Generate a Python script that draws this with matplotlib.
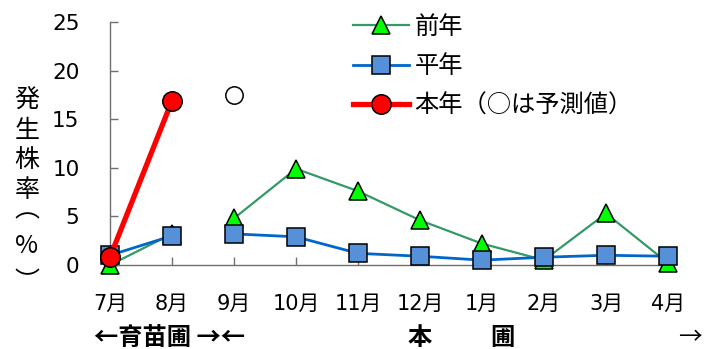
import numpy as np
import matplotlib.pyplot as plt

plt.rcParams['font.family'] = ['DejaVu Sans', 'Noto Sans CJK JP']

# monthly data (%)
months = ['7月', '8月', '9月', '10月', '11月', '12月', '1月', '2月', '3月', '4月']
prev_year = [0.0, 3.2, 4.8, 9.9, 7.6, 4.6, 2.2, 0.5, 5.3, 0.2]
normal_year = [1.0, 3.0, 3.2, 2.9, 1.2, 0.9, 0.5, 0.8, 1.0, 0.9]
this_year = [0.8, 16.9]
forecast_month = 2
forecast_value = 17.5
# nursery -> field break between 8月 and 9月
split = 2

x = np.arange(len(months))
cjk = ['Noto Sans CJK JP', 'DejaVu Sans']

fig = plt.figure(figsize=(7.18, 3.49), dpi=100)
ax = fig.add_axes([0.1532, 0.2407, 0.9304 - 0.1532, 0.937 - 0.2407])

green = '#339966'
blue = '#0066CC'
mk = dict(markeredgecolor='black', markeredgewidth=1.1, clip_on=False)

# 前年
ax.plot(x[:split], prev_year[:split], color=green, lw=1.6, marker='^', ms=12.5,
        markerfacecolor='#00FF00', zorder=3, **mk)
ax.plot(x[split:], prev_year[split:], color=green, lw=1.6, marker='^', ms=12.5,
        markerfacecolor='#00FF00', zorder=3, label='前年', **mk)
# 平年
ax.plot(x[:split], normal_year[:split], color=blue, lw=2, marker='s', ms=13,
        markerfacecolor='#5590D8', zorder=4, **mk)
ax.plot(x[split:], normal_year[split:], color=blue, lw=2, marker='s', ms=13,
        markerfacecolor='#5590D8', zorder=4, label='平年', **mk)
# 本年
ax.plot(x[:len(this_year)], this_year, color='#FF0000', lw=3.8, marker='o', ms=14,
        markerfacecolor='#FF0000', zorder=5, label='本年（○は予測値）', **mk)
ax.plot([x[forecast_month]], [forecast_value], linestyle='none', marker='o', ms=12.5,
        markerfacecolor='white', zorder=5, **mk)

ax.set_xlim(0, 9)
ax.set_ylim(0, 25)
ax.set_yticks([0, 5, 10, 15, 20, 25])
ax.set_xticks(x)
ax.set_xticklabels(months)

for side in ['top', 'right']:
    ax.spines[side].set_visible(False)
for side in ['left', 'bottom']:
    ax.spines[side].set_color('#707070')
    ax.spines[side].set_linewidth(1.0)

ax.tick_params(axis='y', direction='in', length=6, width=1, color='#707070',
               labelsize=15.5, pad=22)
ax.tick_params(axis='x', direction='in', length=6, width=1, color='#707070',
               labelsize=15, pad=21)

# vertical y label, one character per row
# (the vertical bracket glyphs sit low/high in their em box, so shift them)
ylab = ['発', '生', '株', '率', '︵', '%', '︶']
ylab_y = [100, 131, 160, 190, 210, 246, 282]
for ch, yy in zip(ylab, ylab_y):
    fig.text(27 / 718, 1 - yy / 349, ch, ha='center', va='center', fontsize=18,
             family=cjk)

# nursery / field labels under the axis
by = 1 - 338 / 349
fig.text(170 / 718, by, '←育苗圃 →←', ha='center', va='center', fontsize=17.5,
         fontweight='bold', family=cjk)
fig.text(420 / 718, by, '本', ha='center', va='center', fontsize=17.5,
         fontweight='bold', family=cjk)
fig.text(502 / 718, by, '圃', ha='center', va='center', fontsize=17.5,
         fontweight='bold', family=cjk)
fig.text(690 / 718, by, '→', ha='center', va='center', fontsize=17, family=cjk)

ax.legend(loc='upper left', bbox_to_anchor=(353 / 718, 1 - 14 / 349), bbox_transform=fig.transFigure,
          frameon=False, handlelength=2.3, handletextpad=0.22,
          labelspacing=0.55, borderaxespad=0.0, borderpad=0.0,
          prop={'size': 17.5, 'family': cjk})

fig.savefig('out.png', dpi=100)
